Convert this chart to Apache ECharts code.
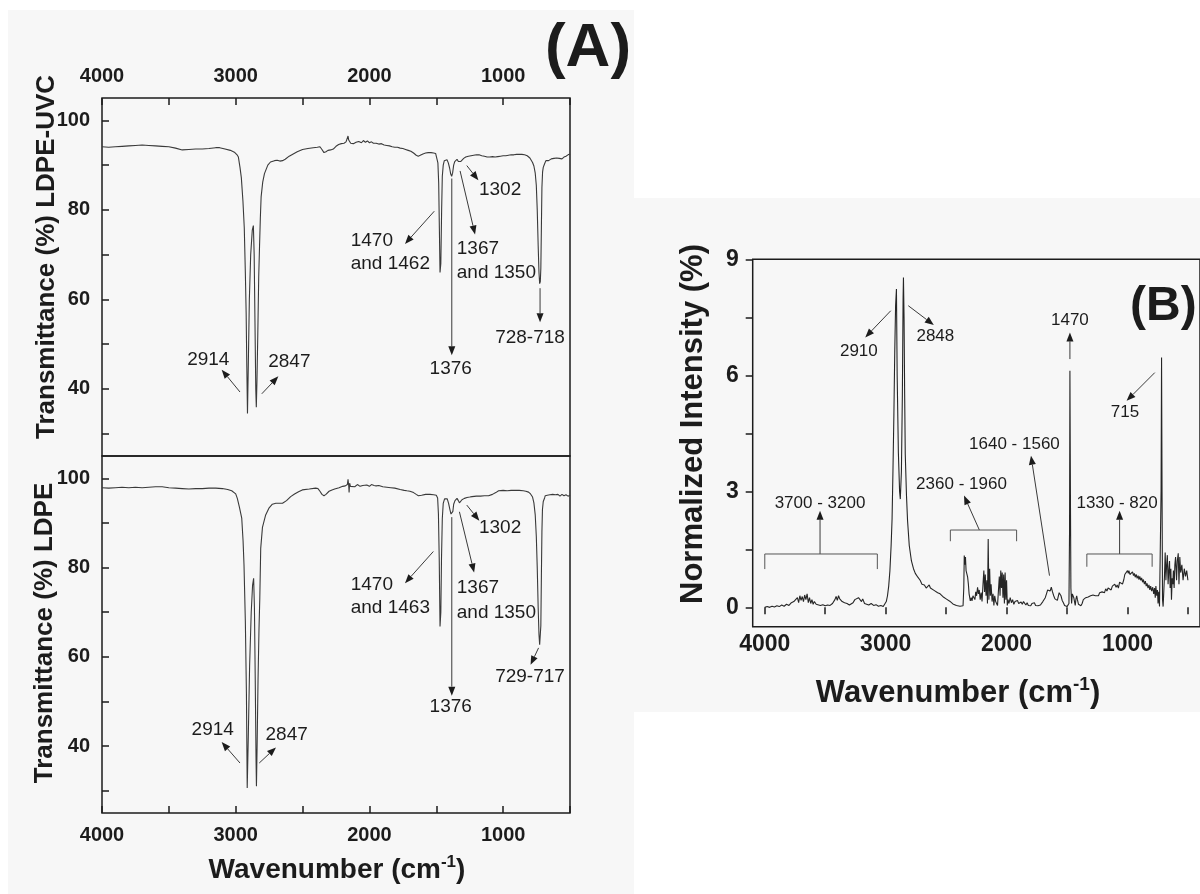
<!DOCTYPE html>
<html>
<head>
<meta charset="utf-8">
<title>LDPE FTIR and Raman spectra</title>
<script src="https://cdn.jsdelivr.net/npm/echarts@6/dist/echarts.min.js"></script>
<style>
  html, body { margin: 0; padding: 0; background: #fff; }
  #main { width: 1200px; height: 894px; }
</style>
</head>
<body>
<div id="main"></div>
<script>
var FONT = "'Liberation Sans', Arial, Helvetica, sans-serif";
var INK = '#1c1c1c';
var TRACE = '#3a3a3a';
var PANEL = '#f7f7f7';

// ---- axis ticks / labels ----
var ftirTicks = [4000, 3500, 3000, 2500, 2000, 1500, 1000, 500];
var ftirLabels = [4000, 3000, 2000, 1000];
var transTicks = [30, 40, 50, 60, 70, 80, 90, 100];
var transLabels = [40, 60, 80, 100];
var ramanTicks = [4000, 3500, 3000, 2500, 2000, 1500, 1000, 500];
var ramanLabels = [4000, 3000, 2000, 1000];
var intTicks = [0, 1.5, 3, 4.5, 6, 7.5, 9];
var intLabels = [0, 3, 6, 9];

// ---- (A) FTIR, LDPE-UVC : [wavenumber, transmittance %] ----
var ldpeUvc = [
  [4000,94.1],[3950,94.0],[3900,94.1],[3850,94.2],[3800,94.3],[3750,94.4],[3700,94.5],[3650,94.4],
  [3600,94.3],[3550,94.2],[3500,94.1],[3450,93.8],[3400,93.4],[3350,93.5],[3300,93.6],[3250,93.6],
  [3200,93.7],[3150,93.9],[3120,93.9],[3080,93.6],[3040,93.3],[3010,92.9],[2990,92.3],[2980,91.8],
  [2968,89.5],[2958,87.2],[2946,82],[2936,76],[2928,66],[2922,57],[2917,45],[2912,34.5],[2906,45],
  [2898,60],[2888,70],[2876,75.5],[2868,76.5],[2862,70],[2856,55],[2850,40],[2846,35.9],[2841,42],
  [2835,52],[2828,65],[2822,71.7],[2816,78],[2810,82.9],[2798,86.2],[2785,88.1],[2760,90.0],
  [2740,90.7],[2710,91.0],[2690,91.1],[2670,90.9],[2650,91.0],[2630,91.3],[2600,92.0],[2570,92.5],
  [2540,93.0],[2500,93.5],[2460,93.7],[2420,93.9],[2390,94.0],[2370,94.1],[2355,93.5],[2340,92.8],
  [2325,93.0],[2310,93.3],[2290,93.4],[2270,93.6],[2250,94.2],[2230,94.6],[2210,94.8],[2190,94.9],
  [2175,95.2],[2165,95.0],[2160,96.5],[2155,95.6],[2150,95.3],[2140,94.9],[2130,95.2],[2120,94.8],
  [2100,95.1],[2080,95.3],[2060,95.0],[2045,95.5],[2030,95.1],[2015,95.4],[2000,95.0],[1985,95.2],
  [1970,94.9],[1950,94.9],[1930,94.7],[1910,94.8],[1890,94.5],[1870,94.4],[1850,94.3],[1830,94.1],
  [1810,94.0],[1790,94.0],[1770,93.8],[1750,93.7],[1730,93.5],[1710,93.3],[1690,93.1],[1670,92.7],
  [1650,92.2],[1635,92.0],[1620,92.2],[1600,92.5],[1580,92.7],[1560,92.8],[1540,92.8],[1520,92.7],
  [1505,92.6],[1495,92.2],[1488,90.5],[1482,86],[1477,76],[1472,66],[1466,68],[1460,80],[1455,87.5],
  [1448,90.0],[1440,91.0],[1430,91.4],[1420,91.2],[1410,90.5],[1400,89.3],[1392,88.0],[1385,87.5],
  [1378,88.2],[1370,90.0],[1362,90.8],[1352,91.2],[1345,91.3],[1335,90.8],[1326,90.5],[1318,90.8],
  [1308,91.2],[1295,91.5],[1280,91.8],[1260,92.0],[1240,92.1],[1220,92.2],[1200,92.3],[1180,92.3],
  [1160,92.1],[1140,92.0],[1120,91.8],[1100,91.8],[1080,91.9],[1060,91.8],[1040,91.9],[1020,92.0],
  [1000,92.1],[980,92.1],[960,92.2],[940,92.3],[920,92.3],[900,92.4],[880,92.4],[860,92.4],
  [840,92.3],[820,92.1],[800,91.6],[790,91.2],[780,90.6],[770,89.8],[760,88.2],[752,85.5],[745,80],
  [738,72],[732,66],[727,63.5],[722,64],[718,67],[714,76],[710,85],[705,88.5],[700,89.5],[690,90.3],
  [680,91.0],[670,91.2],[660,91.0],[650,91.3],[640,91.4],[630,91.2],[620,91.5],[610,91.3],[600,91.6],
  [590,91.4],[580,91.5],[570,91.2],[560,91.4],[545,91.8],[530,92.0],[515,92.3],[500,92.5]
];

// ---- (A) FTIR, LDPE ----
var ldpe = [
  [4000,97.9],[3950,97.8],[3900,97.9],[3850,98.0],[3800,97.9],[3750,98.0],[3700,97.9],[3650,98.0],
  [3600,98.1],[3550,98.1],[3500,97.9],[3450,97.8],[3400,97.7],[3350,97.6],[3300,97.7],[3250,97.7],
  [3200,97.8],[3150,97.8],[3100,97.7],[3060,97.5],[3030,97.2],[3000,96.5],[2988,95.5],[2972,93.5],
  [2955,91.1],[2945,86],[2938,80.6],[2928,68],[2920,52],[2914,30.6],[2906,42],[2896,58],[2884,70],
  [2874,76],[2866,77.6],[2860,71],[2854,55],[2848,37],[2845,31.0],[2840,40],[2833,55],[2826,66],
  [2820,73],[2813,84.3],[2800,89],[2776,91.8],[2750,93.4],[2726,94.2],[2700,94.4],[2677,94.4],
  [2650,94.4],[2639,94.5],[2620,95.0],[2589,95.9],[2560,96.5],[2530,97.0],[2502,97.4],[2450,97.6],
  [2402,97.8],[2385,97.7],[2370,97.1],[2355,96.4],[2340,96.1],[2325,96.4],[2302,97.1],[2280,97.4],
  [2260,97.6],[2227,97.9],[2200,98.2],[2180,98.3],[2165,98.6],[2160,99.8],[2155,98.4],[2152,96.8],
  [2148,98.9],[2142,98.2],[2130,98.5],[2110,98.1],[2090,98.6],[2070,98.2],[2050,98.4],[2040,98.0],
  [2020,98.5],[2000,98.2],[1985,98.6],[1975,98.9],[1965,98.4],[1950,98.3],[1930,98.4],[1921,98.3],
  [1900,98.1],[1870,98.0],[1840,97.9],[1810,97.8],[1796,97.8],[1770,97.5],[1740,97.3],[1720,97.2],
  [1697,97.1],[1670,96.8],[1650,96.4],[1634,96.1],[1610,96.2],[1580,96.4],[1547,96.4],[1520,96.3],
  [1500,96.2],[1490,95.6],[1484,92],[1478,82],[1472,66.8],[1466,70],[1461,82],[1455,91],[1448,94.4],
  [1438,95.4],[1428,95.7],[1418,95.4],[1408,94.4],[1398,93],[1390,92],[1383,91.6],[1376,92.6],
  [1370,94.2],[1360,95.0],[1345,95.5],[1335,95.0],[1327,94.5],[1318,94.9],[1308,95.2],[1290,95.5],
  [1270,95.7],[1250,95.8],[1233,95.9],[1200,96.0],[1170,96.0],[1140,96.1],[1109,96.1],[1080,96.4],
  [1055,96.8],[1034,97.2],[1000,97.3],[970,97.2],[940,97.3],[909,97.3],[880,97.3],[850,97.2],
  [830,97.1],[810,96.9],[795,96.5],[780,95.8],[770,94.5],[760,91.8],[752,87],[745,80],[738,71],
  [732,65],[727,62.7],[722,63],[718,67],[714,78],[710,88],[706,93],[700,94.8],[690,95.6],[685,96.1],
  [670,96.2],[660,96.0],[650,96.3],[640,96.1],[630,96.4],[620,96.0],[610,96.3],[600,96.1],[590,96.4],
  [575,96.0],[560,96.4],[545,96.1],[530,96.3],[515,96.0],[500,96.2]
];

// ---- (B) Raman : [wavenumber, normalized intensity %] ----
var raman = [
  [4000,0.0],[3980,0.02],[3960,0.0],[3940,0.03],[3920,0.01],[3900,0.04],[3880,0.02],[3860,0.06],
  [3840,0.03],[3820,0.08],[3800,0.05],[3780,0.12],[3770,0.08],[3760,0.15],[3745,0.1],[3730,0.25],
  [3720,0.12],[3710,0.3],[3700,0.18],[3690,0.28],[3680,0.15],[3670,0.32],[3660,0.2],[3650,0.35],
  [3640,0.12],[3630,0.25],[3620,0.1],[3610,0.2],[3600,0.08],[3590,0.15],[3575,0.08],[3560,0.1],
  [3540,0.05],[3520,0.07],[3500,0.04],[3480,0.06],[3460,0.05],[3440,0.1],[3420,0.2],[3410,0.28],
  [3400,0.18],[3390,0.3],[3380,0.22],[3370,0.27],[3360,0.15],[3350,0.2],[3340,0.12],[3320,0.1],
  [3300,0.06],[3285,0.08],[3270,0.12],[3255,0.2],[3240,0.15],[3225,0.25],[3210,0.28],[3200,0.15],
  [3190,0.22],[3175,0.1],[3160,0.14],[3140,0.06],[3120,0.1],[3100,0.05],[3080,0.07],[3060,0.03],
  [3040,0.05],[3020,0.02],[3005,0.04],[2995,0.15],[2985,0.3],[2975,0.55],[2965,0.95],[2955,1.6],
  [2947,2.3],[2940,3.5],[2932,5.0],[2925,6.6],[2918,7.8],[2911,8.23],[2905,6.0],[2895,4.0],
  [2885,3.0],[2879,2.8],[2870,3.5],[2862,5.5],[2856,8.0],[2853,8.53],[2848,7.5],[2843,5.5],
  [2838,3.96],[2828,2.9],[2819,2.24],[2805,1.6],[2787,1.2],[2770,1.0],[2755,0.88],[2734,0.78],
  [2715,0.7],[2700,0.6],[2680,0.58],[2665,0.5],[2655,0.52],[2640,0.58],[2630,0.5],[2615,0.47],
  [2600,0.44],[2585,0.4],[2570,0.38],[2550,0.35],[2535,0.3],[2520,0.26],[2500,0.22],[2485,0.18],
  [2470,0.16],[2455,0.12],[2444,0.09],[2430,0.07],[2415,0.05],[2400,0.06],[2385,0.03],[2370,0.05],
  [2360,0.04],[2354,0.5],[2350,1.34],[2345,1.1],[2340,1.3],[2335,0.95],[2328,1.0],[2322,0.78],
  [2316,0.6],[2310,0.35],[2300,0.17],[2292,0.25],[2286,0.17],[2278,0.3],[2270,0.35],[2262,0.2],
  [2255,0.4],[2248,0.3],[2240,0.52],[2233,0.35],[2226,0.45],[2218,0.2],[2210,0.38],[2203,0.15],
  [2195,0.6],[2188,0.95],[2182,0.4],[2176,0.85],[2170,0.3],[2163,0.7],[2158,0.1],[2152,1.77],
  [2146,0.2],[2140,1.0],[2134,0.3],[2128,0.6],[2120,0.15],[2112,0.35],[2105,0.05],[2098,0.3],
  [2090,0.15],[2082,0.2],[2075,0.05],[2068,0.4],[2060,0.8],[2054,0.3],[2048,0.95],[2042,0.5],
  [2036,0.9],[2030,0.25],[2024,0.85],[2018,0.1],[2012,0.9],[2006,0.2],[2000,0.7],[1994,0.05],
  [1988,0.2],[1980,0.1],[1970,0.25],[1960,0.12],[1950,0.2],[1940,0.08],[1930,0.15],[1920,0.1],
  [1910,0.18],[1900,0.1],[1890,0.05],[1880,0.14],[1870,0.08],[1860,0.15],[1850,0.1],[1840,0.06],
  [1830,0.12],[1820,0.05],[1810,0.08],[1800,0.04],[1790,0.1],[1780,0.07],[1770,0.12],[1760,0.05],
  [1750,0.09],[1740,0.04],[1730,0.08],[1720,0.06],[1710,0.1],[1700,0.15],[1690,0.2],[1680,0.25],
  [1670,0.35],[1660,0.45],[1650,0.48],[1640,0.42],[1630,0.52],[1620,0.4],[1610,0.3],[1600,0.22],
  [1590,0.25],[1580,0.18],[1572,0.22],[1565,0.38],[1558,0.42],[1550,0.3],[1540,0.18],[1530,0.12],
  [1520,0.05],[1510,0.08],[1500,0.02],[1490,0.03],[1484,0.1],[1479,2.0],[1476,6.12],[1472,3.0],
  [1468,0.5],[1462,0.1],[1456,0.35],[1450,0.4],[1444,0.25],[1438,0.15],[1432,0.05],[1426,0.22],
  [1420,0.3],[1414,0.2],[1405,0.08],[1395,0.1],[1385,0.04],[1375,0.1],[1365,0.2],[1355,0.15],
  [1345,0.25],[1335,0.2],[1325,0.27],[1315,0.22],[1305,0.3],[1295,0.25],[1285,0.32],[1275,0.28],
  [1265,0.3],[1252,0.35],[1240,0.3],[1230,0.38],[1220,0.35],[1210,0.4],[1199,0.42],[1190,0.38],
  [1180,0.48],[1170,0.42],[1160,0.5],[1146,0.48],[1135,0.45],[1125,0.55],[1115,0.5],[1105,0.6],
  [1094,0.52],[1085,0.58],[1075,0.5],[1065,0.65],[1055,0.62],[1041,0.6],[1030,0.72],[1022,0.85],
  [1015,0.9],[1008,0.82],[1000,0.95],[993,0.88],[988,0.95],[980,0.85],[972,0.9],[965,0.8],
  [958,0.92],[950,0.82],[943,0.88],[936,0.78],[928,0.85],[920,0.75],[912,0.82],[905,0.72],
  [898,0.8],[890,0.7],[883,0.76],[875,0.65],[868,0.72],[860,0.6],[852,0.68],[845,0.55],[838,0.62],
  [830,0.5],[822,0.58],[815,0.45],[808,0.55],[800,0.42],[791,0.52],[783,0.35],[776,0.5],[770,0.25],
  [765,0.55],[758,0.3],[752,0.45],[747,0.1],[741,0.4],[735,0.02],[730,0.0],[726,0.05],[722,3.0],
  [718,6.46],[714,3.0],[710,0.2],[705,0.02],[700,0.0],[694,0.8],[688,1.42],[682,0.7],[676,1.1],
  [670,1.35],[664,0.6],[658,0.95],[652,1.2],[647,0.5],[641,1.0],[636,0.2],[630,0.75],[625,0.6],
  [620,0.95],[614,0.5],[608,1.1],[602,1.3],[594,0.7],[588,1.2],[580,1.4],[574,0.6],[567,1.3],
  [560,0.9],[550,1.1],[540,0.7],[530,1.0],[520,0.8],[510,0.95],[500,0.7]
];

// ---- annotations, in data coordinates ----
// [wavenumber, value, text, align]
var notesUvc = [
  [3205, 46.4, '2914', 'center'], [2599, 46.0, '2847', 'center'],
  [2140, 73.2, '1470', 'left'], [2140, 68.0, 'and 1462', 'left'],
  [1347, 71.3, '1367', 'left'], [1347, 66.0, 'and 1350', 'left'],
  [1023, 84.4, '1302', 'center'], [1392, 44.5, '1376', 'center'],
  [799, 51.4, '728-718', 'center']
];
var arrowsUvc = [
  [[2968, 39.3], [3105, 44.3]], [[2805, 38.9], [2681, 42.8]],
  [[1515, 79.7], [1734, 72.4]], [[1322, 88.7], [1210, 74.5]],
  [[1272, 89.9], [1185, 86.6]], [[1384, 87.0], [1384, 47.5]],
  [[724, 62.5], [724, 54.9]]
];
var notesLdpe = [
  [3172, 43.7, '2914', 'center'], [2619, 42.6, '2847', 'center'],
  [2140, 76.1, '1470', 'left'], [2140, 70.9, 'and 1463', 'left'],
  [1347, 75.4, '1367', 'left'], [1347, 69.9, 'and 1350', 'left'],
  [1023, 89.0, '1302', 'center'], [1392, 48.8, '1376', 'center'],
  [799, 55.6, '729-717', 'center']
];
var arrowsLdpe = [
  [[2968, 36.2], [3105, 40.9]], [[2824, 36.2], [2699, 39.7]],
  [[1522, 83.6], [1734, 76.5]], [[1327, 92.5], [1217, 78.9]],
  [[1272, 94.0], [1178, 90.5]], [[1384, 91.3], [1384, 51.3]],
  [[735, 62.0], [795, 58.2]]
];
var notesRaman = [
  [3222, 6.63, '2910', 'center'], [2589, 7.02, '2848', 'center'],
  [1476, 7.41, '1470', 'center'], [1020, 5.04, '715', 'center'],
  [3543, 2.70, '3700 - 3200', 'center'], [2373, 3.19, '2360 - 1960', 'center'],
  [1935, 4.22, '1640 - 1560', 'center'], [1086, 2.70, '1330 - 820', 'center']
];
var arrowsRaman = [
  [[2958, 7.67], [3169, 6.98]], [[2813, 7.80], [2602, 7.30]],
  [[1476, 6.42], [1476, 7.11]], [[774, 6.07], [1007, 5.34]],
  [[3543, 1.38], [3543, 2.50]], [[2225, 2.0], [2352, 2.89]],
  [[1645, 0.82], [1798, 3.92]], [[1065, 1.38], [1065, 2.50]]
];
// [from, to, level, end]
var bracketsRaman = [
  [4000, 3069, 1.38, 0.99], [2465, 1917, 2.0, 1.71], [1336, 796, 1.38, 1.05]
];

function plain(v) { return String(v); }

function xAxisFor(grid, position, min, max, inside, ticks, labels, fontSize, margin) {
  return {
    gridIndex: grid, type: 'value', position: position, inverse: true,
    min: min, max: max,
    axisLine: { show: false },
    axisTick: { show: true, inside: inside, length: 7, customValues: ticks,
      lineStyle: { color: INK, width: 1.5 } },
    axisLabel: { show: true, customValues: labels, formatter: plain, margin: margin,
      fontSize: fontSize, fontWeight: 'bold', fontFamily: FONT, color: INK },
    splitLine: { show: false }
  };
}
function yAxisFor(grid, min, max, inside, ticks, labels, fontSize, margin) {
  return {
    gridIndex: grid, type: 'value', position: 'left',
    min: min, max: max,
    axisLine: { show: false },
    axisTick: { show: true, inside: inside, length: 7, customValues: ticks,
      lineStyle: { color: INK, width: 1.5 } },
    axisLabel: { show: true, customValues: labels, formatter: plain, margin: margin,
      fontSize: fontSize, fontWeight: 'bold', fontFamily: FONT, color: INK },
    splitLine: { show: false }
  };
}
function trace(idx, data, color) {
  return {
    type: 'line', xAxisIndex: idx, yAxisIndex: idx, data: data,
    showSymbol: false, symbol: 'none', silent: true, clip: true,
    lineStyle: { color: color, width: 1.1 }
  };
}
var frame = { show: true, borderColor: INK, borderWidth: 1.5, backgroundColor: 'transparent' };

var chart = echarts.init(document.getElementById('main'));
chart.setOption({
  backgroundColor: '#ffffff',
  animation: false,
  grid: [
    Object.assign({ left: 102, top: 98, width: 468, height: 358 }, frame),
    Object.assign({ left: 102, top: 456, width: 468, height: 357 }, frame),
    Object.assign({ left: 752.7, top: 259.3, width: 467.7, height: 367.4 }, frame)
  ],
  xAxis: [
    xAxisFor(0, 'top', 500, 4000, true, ftirTicks, ftirLabels, 20, 12),
    xAxisFor(1, 'bottom', 500, 4000, true, ftirTicks, ftirLabels, 20, 12),
    xAxisFor(2, 'bottom', 400, 4100, false, ramanTicks, ramanLabels, 23, 6)
  ],
  yAxis: [
    yAxisFor(0, 25, 105, true, transTicks, transLabels, 20, 12),
    yAxisFor(1, 25, 105, true, transTicks, transLabels, 20, 12),
    yAxisFor(2, -0.5, 9, false, intTicks, intLabels, 23, 14)
  ],
  series: [trace(0, ldpeUvc, TRACE), trace(1, ldpe, TRACE), trace(2, raman, '#262626')]
});

function px(g, p) { return chart.convertToPixel({ xAxisIndex: g, yAxisIndex: g }, p); }

function arrowEls(g, from, to) {
  var a = px(g, from), b = px(g, to);
  var dx = b[0] - a[0], dy = b[1] - a[1], L = Math.sqrt(dx * dx + dy * dy);
  var ux = dx / L, uy = dy / L, hl = 9, hw = 3.5;
  var bx = b[0] - ux * hl, by = b[1] - uy * hl;
  return [
    { type: 'line', silent: true, z: 20,
      shape: { x1: a[0], y1: a[1], x2: bx, y2: by },
      style: { stroke: '#3a3a3a', lineWidth: 1 } },
    { type: 'polygon', silent: true, z: 20,
      shape: { points: [[b[0], b[1]], [bx - uy * hw, by + ux * hw], [bx + uy * hw, by - ux * hw]] },
      style: { fill: INK } }
  ];
}
function noteEl(g, n, size) {
  var q = px(g, [n[0], n[1]]);
  return { type: 'text', x: q[0], y: q[1], silent: true, z: 20,
    style: { text: n[2], font: size + 'px ' + FONT, fill: INK,
      align: n[3], textAlign: n[3], verticalAlign: 'middle', textVerticalAlign: 'middle' } };
}
function bracketEl(g, b) {
  var p1 = px(g, [b[0], b[3]]), p2 = px(g, [b[0], b[2]]), p3 = px(g, [b[1], b[2]]), p4 = px(g, [b[1], b[3]]);
  return { type: 'polyline', silent: true, z: 20,
    shape: { points: [p1, p2, p3, p4] },
    style: { stroke: '#555', lineWidth: 1, fill: null } };
}
function titleEl(x, y, text, size, rotate) {
  return { type: 'text', x: x, y: y, rotation: rotate ? Math.PI / 2 : 0, silent: true, z: 20,
    style: { text: text, font: 'bold ' + size + 'px ' + FONT, fill: INK,
      align: 'center', textAlign: 'center', verticalAlign: 'middle', textVerticalAlign: 'middle' } };
}
function waveTitle(x, y, size) {
  return { type: 'text', x: x, y: y, silent: true, z: 20,
    style: {
      text: '{a|Wavenumber (cm}{s|-1}{a|)}',
      align: 'center', textAlign: 'center', verticalAlign: 'middle', textVerticalAlign: 'middle',
      rich: {
        a: { fontSize: size, fontWeight: 'bold', fontFamily: FONT, fill: INK, color: INK, lineHeight: size + 4 },
        s: { fontSize: Math.round(size * 0.6), fontWeight: 'bold', fontFamily: FONT, fill: INK, color: INK,
             verticalAlign: 'top', lineHeight: Math.round(size * 0.6) }
      }
    } };
}

var els = [
  { type: 'rect', z: -100, silent: true, shape: { x: 8, y: 10, width: 626, height: 884 }, style: { fill: PANEL } },
  { type: 'rect', z: -100, silent: true, shape: { x: 634, y: 198, width: 566, height: 514 }, style: { fill: PANEL } }
];
notesUvc.forEach(function (n) { els.push(noteEl(0, n, 19)); });
arrowsUvc.forEach(function (a) { els = els.concat(arrowEls(0, a[0], a[1])); });
notesLdpe.forEach(function (n) { els.push(noteEl(1, n, 19)); });
arrowsLdpe.forEach(function (a) { els = els.concat(arrowEls(1, a[0], a[1])); });
notesRaman.forEach(function (n) { els.push(noteEl(2, n, 17)); });
arrowsRaman.forEach(function (a) { els = els.concat(arrowEls(2, a[0], a[1])); });
bracketsRaman.forEach(function (b) { els.push(bracketEl(2, b)); });

els.push(titleEl(47, 257, 'Transmittance (%) LDPE-UVC', 26, true));
els.push(titleEl(45, 633, 'Transmittance (%) LDPE', 26, true));
els.push(titleEl(693, 424, 'Normalized Intensity (%)', 31, true));
els.push(waveTitle(337, 870, 28));
els.push(waveTitle(958, 693, 31));
els.push(titleEl(588, 49, '(A)', 62, false));
els.push({ type: 'text', x: 1130, y: 307, silent: true, z: 20,
  style: { text: '(B)', font: 'bold 48px ' + FONT, fill: INK, align: 'left', textAlign: 'left',
    verticalAlign: 'middle', textVerticalAlign: 'middle' } });

chart.setOption({ graphic: els });
</script>
</body>
</html>
